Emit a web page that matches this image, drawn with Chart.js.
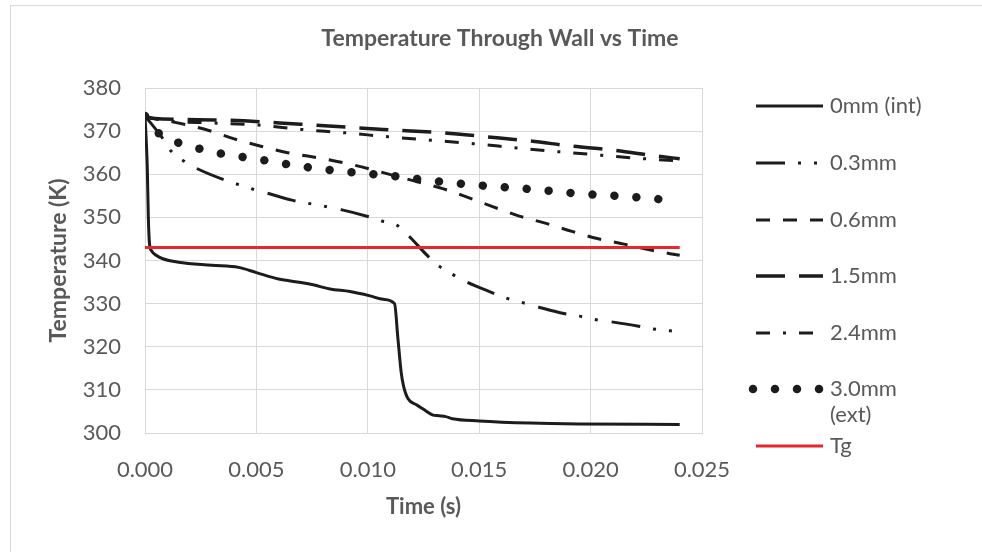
<!DOCTYPE html>
<html>
<head>
<meta charset="utf-8">
<script src="https://cdn.jsdelivr.net/npm/chart.js@4.4.0/dist/chart.umd.min.js"></script>
<style>
  html, body { margin: 0; padding: 0; background: #fff; }
  canvas { display: block; }
</style>
</head>
<body>
<canvas id="myChart" width="982" height="552"></canvas>
<script>
// ---- data ----
const seriesNames = ['0mm (int)', '0.3mm', '0.6mm', '1.5mm', '2.4mm', '3.0mm (ext)', 'Tg'];

const time0 = [0, 0.0001, 0.00015, 0.0002, 0.0003, 0.0005, 0.0008, 0.0015, 0.003, 0.0042, 0.005, 0.006, 0.007, 0.0076, 0.0083, 0.0092, 0.0101, 0.0107, 0.0112, 0.01135, 0.0115, 0.0116, 0.0118, 0.0122, 0.0125, 0.0129, 0.0132, 0.0135, 0.0138, 0.015, 0.0173, 0.0195, 0.024];
const temp0 = [373.5, 362, 350, 344, 342.2, 341.2, 340.4, 339.6, 338.9, 338.4, 337.2, 335.7, 334.9, 334.3, 333.4, 332.8, 331.8, 331.0, 330.0, 322, 314, 311, 308, 306.5, 305.5, 304.2, 304.0, 303.8, 303.3, 302.8, 302.3, 302.1, 302.0];

const time03 = [0, 0.0007, 0.0012, 0.0018, 0.0023, 0.0035, 0.0042, 0.0048, 0.0055, 0.0066, 0.0077, 0.0088, 0.01, 0.0106, 0.0113, 0.0118, 0.0127, 0.0132, 0.0138, 0.0144, 0.0156, 0.0162, 0.0169, 0.0176, 0.0188, 0.0195, 0.0201, 0.0209, 0.0221, 0.0227, 0.024];
const temp03 = [373.5, 369, 365.2, 362.9, 361.4, 358.8, 357.6, 356.6, 355.6, 354.0, 352.9, 351.8, 350.2, 349.2, 348.2, 345.9, 341.0, 338.7, 336.8, 335.1, 332.5, 331.3, 330.3, 329.3, 327.7, 327.1, 326.4, 325.8, 324.8, 324.2, 323.5];

const time06 = [0, 0.0012, 0.0029, 0.004, 0.0052, 0.0064, 0.0079, 0.0094, 0.0111, 0.0122, 0.0134, 0.0144, 0.0156, 0.0168, 0.018, 0.0192, 0.0203, 0.0215, 0.0227, 0.024];
const temp06 = [373.3, 372.2, 370.1, 368.2, 366.5, 365.0, 363.7, 362.1, 359.8, 358.3, 356.6, 354.8, 352.5, 350.3, 348.6, 346.7, 345.1, 343.8, 342.4, 341.2];

const time15 = [0, 0.0003, 0.0031, 0.007, 0.0107, 0.0134, 0.0153, 0.0173, 0.0192, 0.021, 0.023, 0.024];
const temp15 = [373.5, 373.0, 372.6, 371.6, 370.4, 369.6, 368.7, 367.7, 366.5, 365.6, 364.2, 363.6];

const time24 = [0, 0.0005, 0.0011, 0.003, 0.0051, 0.007, 0.009, 0.0109, 0.0128, 0.0147, 0.0167, 0.0186, 0.0205, 0.0224, 0.024];
const temp24 = [373.3, 372.8, 372.3, 371.9, 371.4, 370.4, 369.6, 368.7, 367.9, 367.1, 366.1, 365.2, 364.4, 363.6, 363.1];

const time30 = [0, 0.0007, 0.0017, 0.0027, 0.0037, 0.0048, 0.0069, 0.009, 0.0111, 0.0132, 0.0153, 0.0174, 0.0195, 0.0217, 0.024];
const temp30 = [373.5, 369.1, 367.0, 365.6, 364.5, 363.7, 361.9, 360.6, 359.6, 358.3, 357.3, 356.5, 355.5, 354.8, 353.8];

const timeTg = [0, 0.024];
const tempTg = [343, 343];

const xTicks = [0, 0.005, 0.01, 0.015, 0.02, 0.025];
const yTicks = [300, 310, 320, 330, 340, 350, 360, 370, 380];

// ---- styles ----
const FONT = 'Lato, "Open Sans", sans-serif';
const GREY = '#595959';
const INK = '#1c1c1c';
const RED = '#E8262B';

const lineStyles = [
    { color: INK, width: 3, dash: [], cap: 'butt' },
    { color: INK, width: 3, dash: [29, 13, 3, 13, 3, 14], cap: 'butt' },
    { color: INK, width: 3, dash: [14, 13], cap: 'butt' },
    { color: INK, width: 3.5, dash: [29, 14], cap: 'butt' },
    { color: INK, width: 3, dash: [14, 13, 3, 13], cap: 'butt' },
    { color: INK, width: 8.5, dash: [0.001, 22], cap: 'round' },
    { color: RED, width: 3, dash: [], cap: 'butt' }
];

const times = [time0, time03, time06, time15, time24, time30, timeTg];
const temps = [temp0, temp03, temp06, temp15, temp24, temp30, tempTg];

function toPoints(t, v) {
    return t.map((x, i) => ({ x: x, y: v[i] }));
}

const datasets = seriesNames.map((name, i) => ({
    label: name,
    data: toPoints(times[i], temps[i]),
    borderColor: lineStyles[i].color,
    borderWidth: lineStyles[i].width,
    borderDash: lineStyles[i].dash,
    borderCapStyle: lineStyles[i].cap,
    cubicInterpolationMode: 'monotone',
    pointRadius: 0,
    fill: false,
    order: i === 6 ? 0 : 1
}));

// chart title, border and legend drawn by hand to follow the Excel layout
const decorPlugin = {
    id: 'decor',
    afterDraw(chart) {
        const c = chart.ctx;
        c.save();
        c.strokeStyle = '#D9D9D9';
        c.lineWidth = 1;
        c.strokeRect(10.5, 5.5, 990, 570);

        c.fillStyle = GREY;
        c.font = 'bold 23px ' + FONT;
        c.textAlign = 'center';
        c.textBaseline = 'middle';
        c.fillText('Temperature Through Wall vs Time', 500, 39);

        // legend
        const x0 = 756, x1 = 823;
        const rows = [106, 163, 220, 276, 333, 389, 446];
        c.font = '22px ' + FONT;
        c.textAlign = 'left';
        rows.forEach((y, i) => {
            const st = lineStyles[i];
            c.beginPath();
            c.strokeStyle = st.color;
            c.lineWidth = st.width;
            c.lineCap = st.cap;
            c.setLineDash(st.dash);
            if (i === 5) {
                c.moveTo(753, y);
                c.lineTo(822, y);
            } else {
                c.moveTo(x0, y);
                c.lineTo(x1, y);
            }
            c.stroke();
            c.setLineDash([]);
            c.fillStyle = GREY;
            if (i === 5) {
                c.fillText('3.0mm', 830, y);
                c.fillText('(ext)', 830, y + 26);
            } else {
                c.fillText(seriesNames[i], 830, y);
            }
        });
        c.restore();
    }
};

const ctx = document.getElementById('myChart').getContext('2d');

const myChart = new Chart(ctx, {
    type: 'line',
    data: { datasets: datasets },
    options: {
        responsive: false,
        animation: false,
        devicePixelRatio: 1,
        layout: { padding: { left: 0, top: 88, right: 280, bottom: 0 } },
        plugins: {
            legend: { display: false },
            title: { display: false },
            tooltip: { enabled: false }
        },
        scales: {
            x: {
                type: 'linear',
                min: 0,
                max: 0.025,
                afterBuildTicks: (scale) => { scale.ticks = xTicks.map(v => ({ value: v })); },
                afterFit: (scale) => { scale.height = 119; },
                grid: { color: '#D9D9D9', lineWidth: 1, drawTicks: false },
                border: { color: '#D9D9D9' },
                ticks: {
                    color: GREY,
                    font: { family: FONT, size: 22 },
                    padding: 24,
                    maxRotation: 0,
                    callback: (v) => Number(v).toFixed(3)
                },
                title: {
                    display: true,
                    text: 'Time (s)',
                    color: GREY,
                    font: { family: FONT, size: 22, weight: 'bold' },
                    padding: { top: 0, bottom: 32 }
                }
            },
            y: {
                min: 300,
                max: 380,
                afterBuildTicks: (scale) => { scale.ticks = yTicks.map(v => ({ value: v })); },
                afterFit: (scale) => { scale.width = 145; },
                grid: { color: '#D9D9D9', lineWidth: 1, drawTicks: false },
                border: { color: '#D9D9D9' },
                ticks: {
                    color: GREY,
                    font: { family: FONT, size: 22 },
                    padding: 24
                },
                title: {
                    display: true,
                    text: 'Temperature (K)',
                    color: GREY,
                    font: { family: FONT, size: 23, weight: 'bold' },
                    padding: { top: 45, bottom: 0 }
                }
            }
        }
    },
    plugins: [decorPlugin]
});
</script>
</body>
</html>
